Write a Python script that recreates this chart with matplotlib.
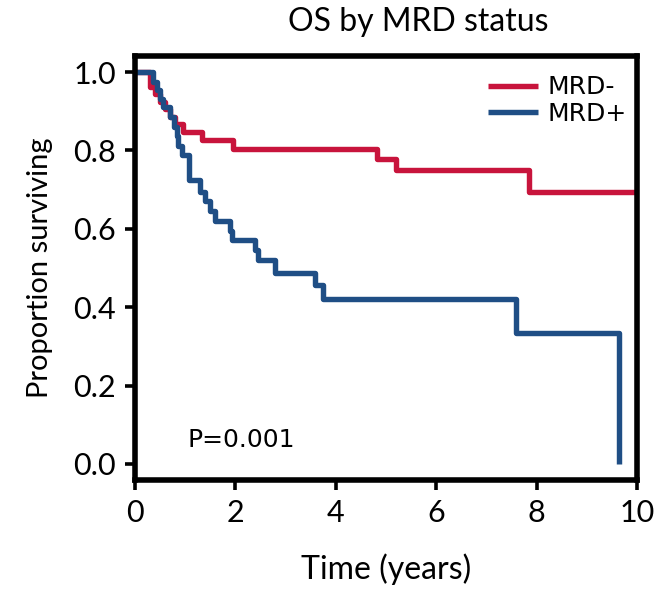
import matplotlib
matplotlib.use("Agg")
import matplotlib.pyplot as plt

# Kaplan-Meier steps
red_t = [0, 0.30, 0.40, 0.50, 0.60, 0.70, 0.80, 0.95, 1.33, 1.95, 4.83, 5.20, 7.85, 10.0]
red_s = [1.0, 0.962, 0.943, 0.924, 0.905, 0.886, 0.867, 0.848, 0.827, 0.805, 0.778, 0.750, 0.695, 0.695]

blue_t = [0, 0.35, 0.43, 0.50, 0.56, 0.70, 0.78, 0.83, 0.86, 0.93, 1.08, 1.29, 1.39, 1.49,
          1.60, 1.89, 1.93, 2.39, 2.45, 2.78, 3.58, 3.74, 7.59, 9.64]
blue_s = [1.0, 0.976, 0.954, 0.932, 0.910, 0.885, 0.861, 0.836, 0.812, 0.788, 0.724, 0.695,
          0.670, 0.645, 0.620, 0.595, 0.571, 0.546, 0.520, 0.487, 0.457, 0.420, 0.334, 0.0]

labels = ["MRD-", "MRD+"]
x_ticks = [0, 2, 4, 6, 8, 10]
y_ticks = [0.0, 0.2, 0.4, 0.6, 0.8, 1.0]

plt.rcParams['font.family'] = ['Lato', 'DejaVu Sans']

red = '#C8143C'
blue = '#1F4E85'

fig = plt.figure(figsize=(6.6, 5.9), dpi=100)
ax = fig.add_axes([0.2045, 0.1864, 0.7605, 0.7186])

ax.step(red_t, red_s, where='post', color=red, lw=3.9, label=labels[0], solid_capstyle='butt')
ax.step(blue_t, blue_s, where='post', color=blue, lw=3.9, label=labels[1], solid_capstyle='butt')

ax.set_xlim(0, 10)
ax.set_ylim(-0.041, 1.041)
ax.set_xticks(x_ticks)
ax.set_yticks(y_ticks)
ax.set_yticklabels(["%.1f" % v for v in y_ticks])
ax.tick_params(labelsize=22, width=2.6, length=7.5, direction='out', colors='black', pad=6)
for s in ax.spines.values():
    s.set_linewidth(4.0)

ax.set_title("OS by MRD status", fontsize=23, pad=18, x=0.565)
ax.set_xlabel("Time (years)", fontsize=23, labelpad=19)
ax.set_ylabel("Proportion surviving", fontsize=21, labelpad=15)

ax.text(1.05, 0.06, "P=0.001", fontsize=18, va='center', ha='left',
        family=['DejaVu Sans'])

ax.legend(loc='upper right', bbox_to_anchor=(1.0, 0.978), frameon=False,
          handlelength=2.0, handletextpad=0.4, labelspacing=0.1, borderaxespad=0.0,
          prop={'family': ['DejaVu Sans'], 'size': 18})

fig.savefig("out.png", dpi=100)
